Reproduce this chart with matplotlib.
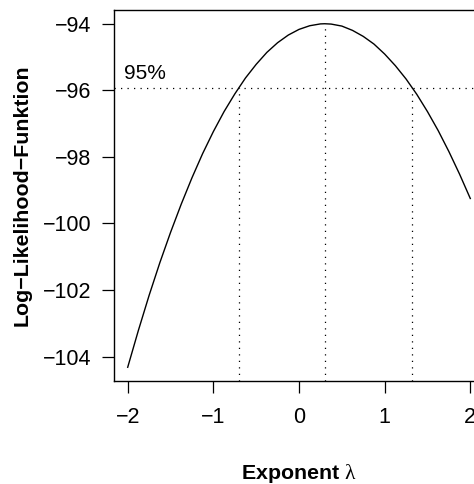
import numpy as np
import matplotlib
matplotlib.use("Agg")
import matplotlib.pyplot as plt

plt.rcParams["font.family"] = ["Liberation Sans", "DejaVu Sans"]
plt.rcParams["mathtext.fontset"] = "custom"
plt.rcParams["mathtext.rm"] = "Liberation Serif"

# Box-Cox profile log-likelihood over the exponent grid
lambdas = [-2.000, -1.875, -1.750, -1.625, -1.500, -1.375, -1.250, -1.125,
           -1.000, -0.875, -0.750, -0.625, -0.500, -0.375, -0.250, -0.125,
           0.000, 0.125, 0.250, 0.300, 0.375, 0.500, 0.625, 0.750, 0.875,
           1.000, 1.125, 1.250, 1.375, 1.500, 1.625, 1.750, 1.875, 2.000]
loglik = [-104.32, -103.21, -102.16, -101.18, -100.27, -99.42, -98.63, -97.90,
          -97.24, -96.64, -96.11, -95.63, -95.22, -94.86, -94.57, -94.34,
          -94.17, -94.06, -94.005, -94.00, -94.01, -94.07, -94.20, -94.38, -94.61,
          -94.91, -95.26, -95.66, -96.12, -96.64, -97.21, -97.84, -98.52, -99.25]

conf_level_label = "95%"
ci_drop = 1.92  # half the 95% chi-square(1) quantile

x_ticks = [-2, -1, 0, 1, 2]
y_ticks = [-104, -102, -100, -98, -96, -94]

lam = np.array(lambdas)
ll = np.array(loglik)
imax = int(np.argmax(ll))
lam_hat = lam[imax]
ll_max = ll[imax]
lim = ll_max - ci_drop

# confidence limits where the curve crosses the 95% level
left = np.interp(lim, ll[:imax + 1], lam[:imax + 1])
right = np.interp(lim, ll[imax:][::-1], lam[imax:][::-1])

fig = plt.figure(figsize=(4.74, 4.84), dpi=100)
ax = fig.add_axes([114 / 474, 1 - 381 / 484, 370 / 474, 371 / 484])

ax.plot(lam, ll, color="black", lw=1.0)

xr = lam.max() - lam.min()
yr = ll.max() - ll.min()
ax.set_xlim(lam.min() - 0.04 * xr, lam.max() + 0.04 * xr)
ymin, ymax = ll.min() - 0.04 * yr, ll.max() + 0.04 * yr
ax.set_ylim(ymin, ymax)

dot = (0, (1, 4.2))
ax.axhline(lim, color="black", lw=0.9, linestyle=dot)
for xv, yv in [(left, lim), (lam_hat, ll_max), (right, lim)]:
    ax.plot([xv, xv], [ymin, yv], color="black", lw=0.9, linestyle=dot)

ax.text(-2.04, lim + 0.44, conf_level_label, fontsize=15, ha="left", va="center")

ax.set_xticks(x_ticks)
ax.set_yticks(y_ticks)
ax.set_xticklabels([str(t).replace("-", "\u2212") for t in x_ticks])
ax.set_yticklabels([str(t).replace("-", "\u2212") for t in y_ticks])
ax.tick_params(direction="out", length=8.5, width=0.9, pad=8, labelsize=15.5, colors="black")
ax.tick_params(axis="x", pad=10)

for s in ax.spines.values():
    s.set_linewidth(1.0)

ax.set_xlabel(r"Exponent $\mathrm{\lambda}$", fontsize=15.4, fontweight="bold")
ax.xaxis.set_label_coords(0.5, -0.248)
ax.xaxis.label.set_va("center")
ax.set_ylabel("Log\u2212Likelihood\u2212Funktion", fontsize=15.4, fontweight="bold")
ax.yaxis.set_label_coords(-0.2486, 0.5)
ax.yaxis.label.set_va("center")

fig.savefig("out.png", dpi=100)
